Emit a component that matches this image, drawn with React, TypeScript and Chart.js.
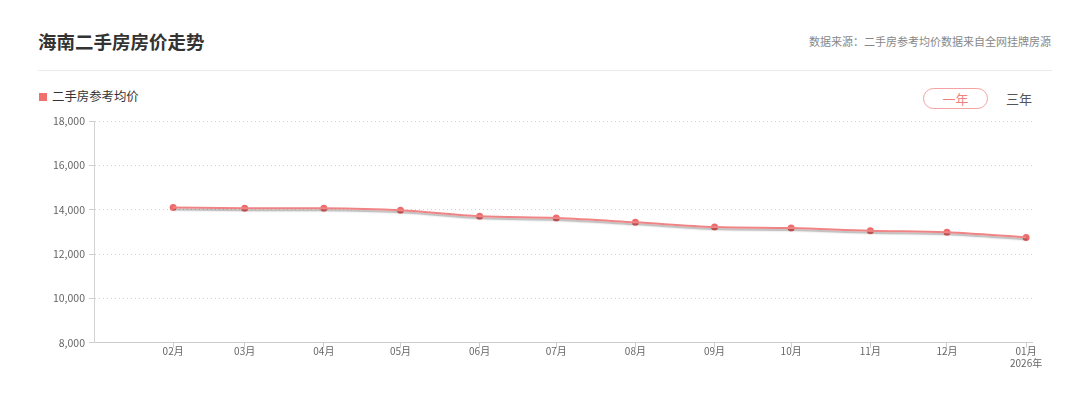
import React, { useEffect, useRef } from "react";
import { Chart, registerables } from "chart.js";

Chart.register(...registerables);

// ---- data ----
const monthDates = [
  "2025-02-01", "2025-03-01", "2025-04-01", "2025-05-01", "2025-06-01", "2025-07-01",
  "2025-08-01", "2025-09-01", "2025-10-01", "2025-11-01", "2025-12-01", "2026-01-01",
];
const monthLabels: (string | string[])[] = [
  "02月", "03月", "04月", "05月", "06月", "07月", "08月", "09月", "10月", "11月", "12月", ["01月", "2026年"],
];
const avgPrice = [14100, 14070, 14060, 13970, 13700, 13620, 13430, 13220, 13170, 13050, 12980, 12750];
const axisStartDate = "2025-01-01";
const axisEndDate = "2026-01-04";
const yMin = 8000;
const yMax = 18000;
const yStep = 2000;

const DAY = 24 * 3600 * 1000;
const toDay = (s: string) => (Date.parse(s + "T00:00:00Z") - Date.parse(monthDates[0] + "T00:00:00Z")) / DAY;
const xValues = monthDates.map(toDay);
const points = xValues.map((x, i) => ({ x, y: avgPrice[i] }));

const FONT = "'Noto Sans CJK SC', 'Noto Sans', sans-serif";

const shadowPlugin = {
  id: "lineShadow",
  beforeDatasetDraw(chart: any, args: any) {
    if (args.index !== 0) return;
    const ctx = chart.ctx;
    ctx.save();
    ctx.shadowColor = "rgba(0,0,0,0.3)";
    ctx.shadowOffsetX = 1;
    ctx.shadowOffsetY = 2;
    ctx.shadowBlur = 1.5;
  },
  afterDatasetDraw(chart: any, args: any) {
    if (args.index !== 0) return;
    chart.ctx.restore();
  },
};

function PriceChart() {
  const ref = useRef<HTMLCanvasElement | null>(null);
  useEffect(() => {
    if (!ref.current) return;
    const chart = new Chart(ref.current, {
      type: "line",
      data: {
        datasets: [
          {
            label: "二手房参考均价",
            data: points,
            borderColor: "#f08484",
            borderWidth: 2,
            pointRadius: 0,
            cubicInterpolationMode: "monotone",
            fill: false,
          },
          {
            label: "二手房参考均价-点",
            data: points,
            showLine: false,
            pointRadius: 3.5,
            pointBackgroundColor: "#ee6b6b",
            pointBorderWidth: 0,
            fill: false,
          },
        ],
      },
      options: {
        animation: false,
        responsive: false,
        maintainAspectRatio: false,
        layout: { padding: { left: 0, right: 47.5, top: 121, bottom: 0 } },
        plugins: { legend: { display: false }, tooltip: { enabled: false } },
        scales: {
          x: {
            type: "linear",
            min: toDay(axisStartDate),
            max: toDay(axisEndDate) - 0.5,
            afterBuildTicks: (scale: any) => {
              scale.ticks = xValues.map((v) => ({ value: v }));
            },
            afterFit: (scale: any) => {
              scale.height = 56.3;
            },
            ticks: {
              autoSkip: false,
              maxRotation: 0,
              padding: -2,
              color: "#666",
              font: { size: 10, family: FONT, lineHeight: 1.2 },
              callback: (_v: any, i: number) => monthLabels[i],
            },
            grid: { drawOnChartArea: false, drawTicks: true, tickLength: 5, color: "#ccc" },
            border: { color: "#ccc" },
          },
          y: {
            min: yMin,
            max: yMax,
            afterFit: (scale: any) => {
              scale.width = 94;
            },
            ticks: {
              stepSize: yStep,
              padding: 4,
              color: "#666",
              font: { size: 10.5, family: FONT },
              callback: (v: any) => Number(v).toLocaleString("en-US"),
            },
            grid: { color: "#d0d0d0", tickLength: 5, tickColor: "#ccc", drawTicks: true },
            border: { color: "#d4d4d4", dash: [1, 3] },
          },
        },
      },
      plugins: [shadowPlugin],
    } as any);
    return () => chart.destroy();
  }, []);
  return (
    <canvas
      ref={ref}
      width={1080}
      height={399}
      style={{ position: "absolute", left: 0, top: 0, width: 1080, height: 399 }}
    />
  );
}

export default function App() {
  return (
    <div
      style={{
        position: "absolute",
        left: 0,
        top: 0,
        width: 1080,
        height: 399,
        background: "#fff",
        fontFamily: FONT,
        overflow: "hidden",
      }}
    >
      <div
        style={{
          position: "absolute",
          left: 38,
          top: 32.3,
          fontSize: 18.5,
          lineHeight: "18.5px",
          fontWeight: 700,
          color: "#333",
          whiteSpace: "nowrap",
        }}
      >
        海南二手房房价走势
      </div>
      <div
        style={{
          position: "absolute",
          right: 29,
          top: 36.2,
          fontSize: 11,
          lineHeight: "11px",
          color: "#888",
          whiteSpace: "nowrap",
        }}
      >
        数据来源：二手房参考均价数据来自全网挂牌房源
      </div>
      <div style={{ position: "absolute", left: 38, top: 70, width: 1014, height: 1, background: "#ececec" }} />
      <div style={{ position: "absolute", left: 39, top: 93, width: 8, height: 8, background: "#f07070" }} />
      <div
        style={{
          position: "absolute",
          left: 52,
          top: 90.4,
          fontSize: 12.4,
          lineHeight: "12.4px",
          color: "#333",
          whiteSpace: "nowrap",
        }}
      >
        二手房参考均价
      </div>
      <div
        style={{
          position: "absolute",
          left: 923,
          top: 88,
          width: 65,
          height: 21,
          boxSizing: "border-box",
          border: "1px solid #f3a3a3",
          borderRadius: 11,
          display: "flex",
          alignItems: "center",
          justifyContent: "center",
          fontSize: 13,
          color: "#f08080",
        }}
      >
        一年
      </div>
      <div
        style={{
          position: "absolute",
          left: 1006,
          top: 91.8,
          fontSize: 13,
          lineHeight: "13px",
          color: "#555",
          whiteSpace: "nowrap",
        }}
      >
        三年
      </div>
      <PriceChart />
    </div>
  );
}
